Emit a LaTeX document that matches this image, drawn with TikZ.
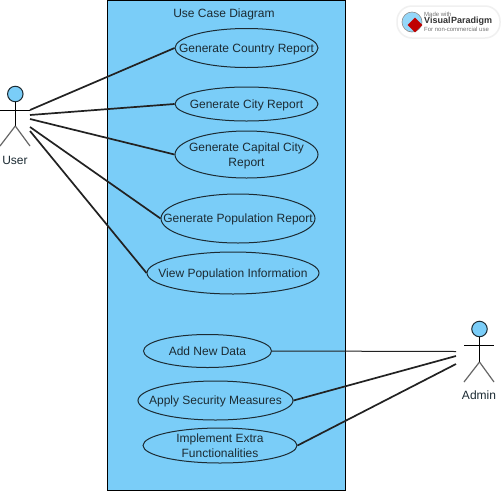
\documentclass[tikz,border=0pt]{standalone}
\usepackage{fontspec}
\setmainfont{Liberation Sans}
\usetikzlibrary{shapes.geometric}
\definecolor{ucblue}{HTML}{7ACDF8}
\definecolor{ink}{HTML}{1C2B33}
\definecolor{wire}{HTML}{222222}
\tikzset{
  usecase/.style={ellipse,draw=ink,line width=1pt,inner xsep=-60pt,inner ysep=-25pt,align=center,text=ink,text depth=0pt,font=\fontsize{12}{15.5}\selectfont},
  wirea/.style={draw=wire,line width=1.7pt},
  wireb/.style={draw=wire,line width=1pt},
  stick/.style={draw=black,line width=1pt},
  leg/.style={draw=black!60,line width=1.2pt},
  actorlabel/.style={text=ink,inner sep=0pt,font=\fontsize{12}{14}\selectfont},
  head/.style={circle,draw=ink,fill=ucblue,line width=1pt,inner sep=0pt,minimum size=15.5pt},
}
\begin{document}
\begin{tikzpicture}[x=1pt,y=-1pt]
\useasboundingbox[fill=white] (0,0) rectangle (504,491);
\node[draw=black,fill=ucblue,line width=1pt,inner sep=0pt,minimum width=238pt,minimum height=490pt] (sys) at (226,245) {};
\node[text=ink,inner sep=0pt,font=\fontsize{12}{14}\selectfont] (title) at (224,14) {Use Case Diagram};
\node[usecase,minimum width=143pt,minimum height=39pt] (country) at (246.5,48) {Generate Country Report};
\node[usecase,minimum width=143pt,minimum height=34pt] (city) at (246.5,104) {Generate City Report};
\node[usecase,minimum width=143pt,minimum height=47pt] (capital) at (246.5,154.5) {Generate Capital City\\Report};
\node[usecase,minimum width=154pt,minimum height=49pt] (population) at (238,218.5) {Generate Population Report};
\node[usecase,minimum width=172pt,minimum height=42pt] (view) at (233,273) {View Population Information};
\node[usecase,minimum width=128pt,minimum height=33pt] (add) at (207.5,351) {Add New Data};
\node[usecase,minimum width=155pt,minimum height=39pt] (apply) at (215.5,400.5) {Apply Security Measures};
\node[usecase,minimum width=154pt,minimum height=35pt] (extra) at (220,445.5) {Implement Extra\\Functionalities};
% user actor
\node[head] (uhead) at (15.3,94) {};
\coordinate (uneck) at (15.3,126);
\coordinate (ularm) at (0,110);
\coordinate (urarm) at (30,110);
\coordinate (ulleg) at (0,146);
\coordinate (urleg) at (30,146);
\draw[stick] (uhead) -- (uneck);
\draw[stick] (ularm) -- (urarm);
\draw[leg] (uneck) -- (ulleg);
\draw[leg] (uneck) -- (urleg);
\node[actorlabel] (ulabel) at (15,160) {User};
% admin actor
\node[head] (ahead) at (479.5,329) {};
\coordinate (aneck) at (479.5,362);
\coordinate (alarm) at (464,345);
\coordinate (ararm) at (494,345);
\coordinate (alleg) at (464,382);
\coordinate (arleg) at (494,382);
\draw[stick] (ahead) -- (aneck);
\draw[stick] (alarm) -- (ararm);
\draw[leg] (aneck) -- (alleg);
\draw[leg] (aneck) -- (arleg);
\node[actorlabel] (alabel) at (479,395) {Admin};
% connector ends
\coordinate (u1) at (30,110);
\coordinate (u2) at (30,115);
\coordinate (u3) at (30,119);
\coordinate (u4) at (30,127);
\coordinate (u5) at (30,131);
\coordinate (a1) at (456,351.5);
\coordinate (a2) at (456,356);
\coordinate (a3) at (456,364);
\draw[wirea] (u1) -- (country.west);
\draw[wirea] (u2) -- (city.west);
\draw[wirea] (u3) -- (capital.west);
\draw[wirea] (u4) -- (population.west);
\draw[wirea] (u5) -- (view.west);
\draw[wireb] (a1) -- (add.east);
\draw[wirea] (a2) -- (apply.east);
\draw[wirea] (a3) -- (extra.east);
% watermark
\node[draw=black!6,fill=white,rounded corners=15pt,line width=1.5pt,minimum width=103pt,minimum height=32pt,inner sep=0pt] (badge) at (448.5,22) {};
\node[circle,draw=black!45,fill=ucblue!80,line width=.6pt,minimum size=20pt,inner sep=0pt] (globe) at (412,22) {};
\node[diamond,aspect=1,fill=red!75!black,minimum size=15pt,inner sep=0pt] (mark) at (415,25) {};
\node[text=black!55,inner sep=0pt,anchor=west,font=\fontsize{6}{7}\selectfont] (made) at (424,14) {Made with};
\node[text=black!80,inner sep=0pt,anchor=west,font=\fontsize{9}{11}\selectfont\bfseries] (vp) at (424,21.5) {Visual\hspace{.5pt}Paradigm};
\node[text=black!55,inner sep=0pt,anchor=west,font=\fontsize{6}{7}\selectfont] (nc) at (424,29.5) {For non-commercial use};
\end{tikzpicture}
\end{document}
